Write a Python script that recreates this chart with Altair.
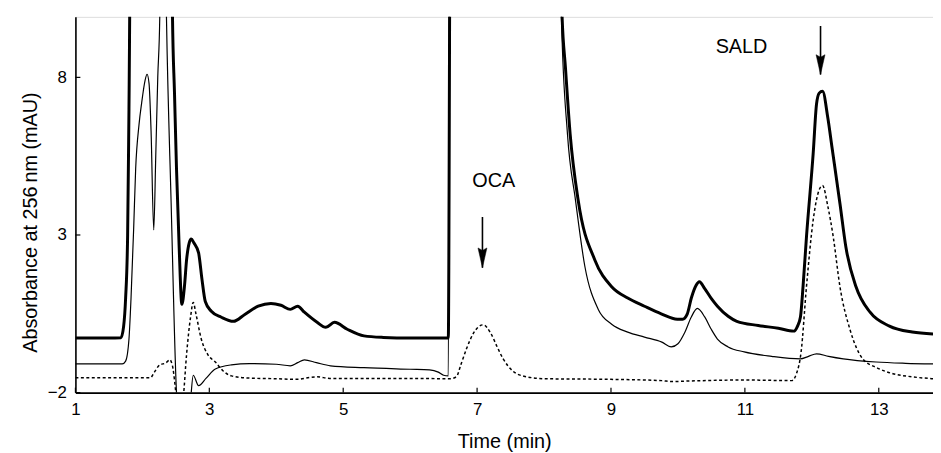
import altair as alt
import pandas as pd

# ---- data ----
thick_x = [1.0, 1.5, 1.68, 1.72, 1.75, 1.78, 1.80, 1.83, 2.43, 2.45, 2.48, 2.51, 2.55, 2.59, 2.63, 2.66, 2.70,
           2.73, 2.77, 2.84, 2.89, 2.94, 3.03, 3.18, 3.36, 3.53, 3.73, 3.92, 4.07, 4.21, 4.32, 4.42,
           4.61, 4.74, 4.87, 5.06, 5.31, 5.6, 6.0, 6.57, 6.60, 8.22, 8.27, 8.32, 8.39, 8.51, 8.76,
           9.01, 9.25, 9.5, 9.75, 9.99, 10.07, 10.14, 10.2, 10.27, 10.32, 10.4, 10.5, 10.59, 10.75,
           10.88, 11.2, 11.5, 11.73, 11.78, 11.83, 11.87, 11.92, 12.02, 12.07, 12.11, 12.16, 12.24,
           12.30, 12.42, 12.51, 12.66, 12.87, 13.16, 13.5, 13.81]
thick_y = [-0.27, -0.27, -0.26, 0.1, 1.0, 3.0, 7.0, 14, 14, 9.92, 7.5, 5.1, 2.6, 0.8, 1.4, 2.2, 2.75,
           2.87, 2.75, 2.43, 1.6, 0.89, 0.58, 0.39, 0.26, 0.48, 0.74, 0.83, 0.77, 0.64, 0.74, 0.55,
           0.23, 0.07, 0.23, 0.01, -0.2, -0.25, -0.27, -0.27, 14, 14, 9.9, 8.3, 6.2, 4.1, 2.2,
           1.36, 1.0, 0.74, 0.5, 0.33, 0.33, 0.5, 1.0, 1.4, 1.52, 1.3, 0.98, 0.74, 0.42,
           0.26, 0.13, 0.04, -0.05, 0.08, 0.4, 1.4, 2.94, 5.58, 7.15, 7.5, 7.56, 6.7,
           5.8, 4.0, 2.6, 1.36, 0.55, 0.11, -0.08, -0.14]

thin_x = [1.0, 1.5, 1.70, 1.75, 1.80, 1.83, 1.87, 1.90, 1.95, 1.99, 2.04, 2.07, 2.10, 2.13, 2.17,
          2.20, 2.23, 2.26, 2.28, 2.33, 2.36, 2.43, 2.51, 2.55, 2.70, 2.73, 2.76, 2.84, 2.95, 3.09,
          3.33, 3.6, 4.0, 4.21, 4.32, 4.42, 4.6, 4.81, 5.31, 6.0, 6.29, 6.42, 6.5, 6.57, 6.59, 8.22,
          8.26, 8.35, 8.47, 8.61, 8.81, 9.01, 9.25, 9.5, 9.76, 9.9, 10.0, 10.1, 10.2, 10.29, 10.4,
          10.5, 10.59, 10.75, 10.99, 11.4, 11.83, 11.95, 12.07, 12.25, 12.47, 12.96, 13.4, 13.81]
thin_y = [-1.09, -1.09, -1.09, -1.0, -0.3, 0.96, 3.2, 5.1, 6.5, 7.2, 7.9, 8.1, 7.8, 6.3, 3.16,
          5.5, 8.0, 9.92, 14, 14, 9.9, 4.0, -2.0, -3, -3, -2.0, -1.45, -1.78, -1.55, -1.25,
          -1.12, -1.08, -1.1, -1.15, -1.05, -0.96, -1.05, -1.15, -1.21, -1.26, -1.28, -1.35, -1.45,
          -1.47, 14, 14, 9.9, 6.2, 4.1, 2.0, 0.64, 0.17, -0.08, -0.24, -0.4, -0.55, -0.45, -0.1,
          0.4, 0.67, 0.4, 0.0, -0.3, -0.55, -0.71, -0.85, -0.93, -0.85, -0.77, -0.85, -0.93, -1.03,
          -1.07, -1.09]

dot_x = [1.0, 1.5, 2.12, 2.18, 2.26, 2.35, 2.41, 2.45, 2.51, 2.55, 2.61, 2.66, 2.72, 2.76, 2.80,
         2.88, 2.98, 3.09, 3.2, 3.33, 3.6, 4.0, 4.32, 4.5, 4.61, 4.8, 5.5, 6.0, 6.59, 6.69, 6.76,
         6.84, 6.95, 7.09, 7.2, 7.3, 7.39, 7.53, 7.7, 8.02, 9.0, 9.76, 9.9, 10.2, 11.0, 11.7,
         11.77, 11.84, 11.92, 12.02, 12.09, 12.16, 12.24, 12.32, 12.42, 12.57, 12.76, 12.96, 13.21,
         13.5, 13.81]
dot_y = [-1.53, -1.53, -1.53, -1.35, -1.12, -1.06, -0.96, -1.15, -2.2, -3, -2.2, -0.8, 0.4, 0.86, 0.5,
         -0.3, -0.8, -1.03, -1.3, -1.47, -1.54, -1.56, -1.58, -1.52, -1.5, -1.55, -1.55, -1.55, -1.56,
         -1.5, -1.1, -0.62, -0.1, 0.15, -0.1, -0.55, -0.93, -1.31, -1.48, -1.56, -1.58, -1.62, -1.65,
         -1.63, -1.6, -1.62, -1.4, -0.71, 1.36, 3.47, 4.3, 4.57, 3.9, 2.94, 1.36, 0.0, -0.93, -1.2,
         -1.4, -1.5, -1.56]

labels = ["OCA", "SALD"]
label_x = [7.25, 10.95]
label_y = [4.71, 8.97]

arrow_x = [7.08, 12.13]
arrow_top = [3.57, 9.63]
arrow_tip = [1.96, 8.09]

x_ticks = [1, 3, 5, 7, 9, 11, 13]
y_ticks = [-2, 3, 8]

X_DOMAIN = [1, 13.81]
Y_DOMAIN = [-2, 9.92]
W, H = 865, 379
FONT = "Liberation Sans"

xs = alt.Scale(domain=X_DOMAIN, nice=False, zero=False)
ys = alt.Scale(domain=Y_DOMAIN, nice=False, zero=False)

xaxis = alt.Axis(values=x_ticks, format="d", title="Time (min)", ticks=False, grid=False, labelPadding=9,
                 titlePadding=14, labelFontSize=17, titleFontSize=20, labelFont=FONT, titleFont=FONT,
                 labelColor="black", titleColor="black", domainColor="black", domainWidth=1.6,
                 titleFontWeight="normal", labelFlush=False)
yaxis = alt.Axis(values=y_ticks, format="d", title="Absorbance at 256\u2009nm (mAU)", ticks=False, grid=False,
                 labelPadding=9, titlePadding=7, titleY=207, labelFontSize=17, titleFontSize=20,
                 labelFont=FONT, titleFont=FONT, labelColor="black", titleColor="black",
                 domainColor="black", domainWidth=1.6, titleFontWeight="normal", labelFlush=False)

thick_df = pd.DataFrame({"t": thick_x, "a": thick_y})
thin_df = pd.DataFrame({"t": thin_x, "a": thin_y})
dot_df = pd.DataFrame({"t": dot_x, "a": dot_y})

thick = alt.Chart(thick_df).mark_line(color="black", strokeWidth=3.0, interpolate="monotone", clip=True).encode(
    x=alt.X("t:Q", scale=xs, axis=xaxis), y=alt.Y("a:Q", scale=ys, axis=yaxis))
thin = alt.Chart(thin_df).mark_line(color="black", strokeWidth=1.2, interpolate="monotone", clip=True).encode(
    x=alt.X("t:Q", scale=xs), y=alt.Y("a:Q", scale=ys))
dotted = alt.Chart(dot_df).mark_line(color="black", strokeWidth=1.5, strokeDash=[3, 2.5],
                                     interpolate="monotone", clip=True).encode(
    x=alt.X("t:Q", scale=xs), y=alt.Y("a:Q", scale=ys))

xt = alt.Chart(pd.DataFrame({"v": x_ticks})).mark_rule(color="black", strokeWidth=1.2).encode(
    x=alt.X("v:Q", scale=xs), y=alt.value(H), y2=alt.value(H - 5))
yt = alt.Chart(pd.DataFrame({"v": y_ticks})).mark_rule(color="black", strokeWidth=1.2).encode(
    y=alt.Y("v:Q", scale=ys), x=alt.value(0), x2=alt.value(5))

lab = alt.Chart(pd.DataFrame({"l": labels, "x": label_x, "y": label_y})).mark_text(
    font=FONT, fontSize=20, color="black", align="center", baseline="middle").encode(
    x=alt.X("x:Q", scale=xs), y=alt.Y("y:Q", scale=ys), text="l:N")

adf = pd.DataFrame({"x": arrow_x, "top": arrow_top, "tip": arrow_tip})
shaft = alt.Chart(adf).mark_rule(color="black", strokeWidth=1.6).encode(
    x=alt.X("x:Q", scale=xs), y=alt.Y("top:Q", scale=ys), y2="tip:Q")
head = alt.Chart(adf).mark_point(shape="M-0.45,-2 L0,-1.75 L0.45,-2 L0,0 Z", filled=True, fill="black",
                                 stroke="black", strokeWidth=0.5, size=400, opacity=1).encode(
    x=alt.X("x:Q", scale=xs), y=alt.Y("tip:Q", scale=ys))

chart = alt.layer(thick, thin, dotted, xt, yt, lab, shaft, head).properties(
    width=W, height=H,
    autosize=alt.AutoSizeParams(type="none"),
    padding={"left": 68, "top": 7, "right": 0, "bottom": 60},
).configure_view(stroke=None).configure(background="white")

chart.save("out.html", embed_options={"renderer": "svg", "actions": False})
